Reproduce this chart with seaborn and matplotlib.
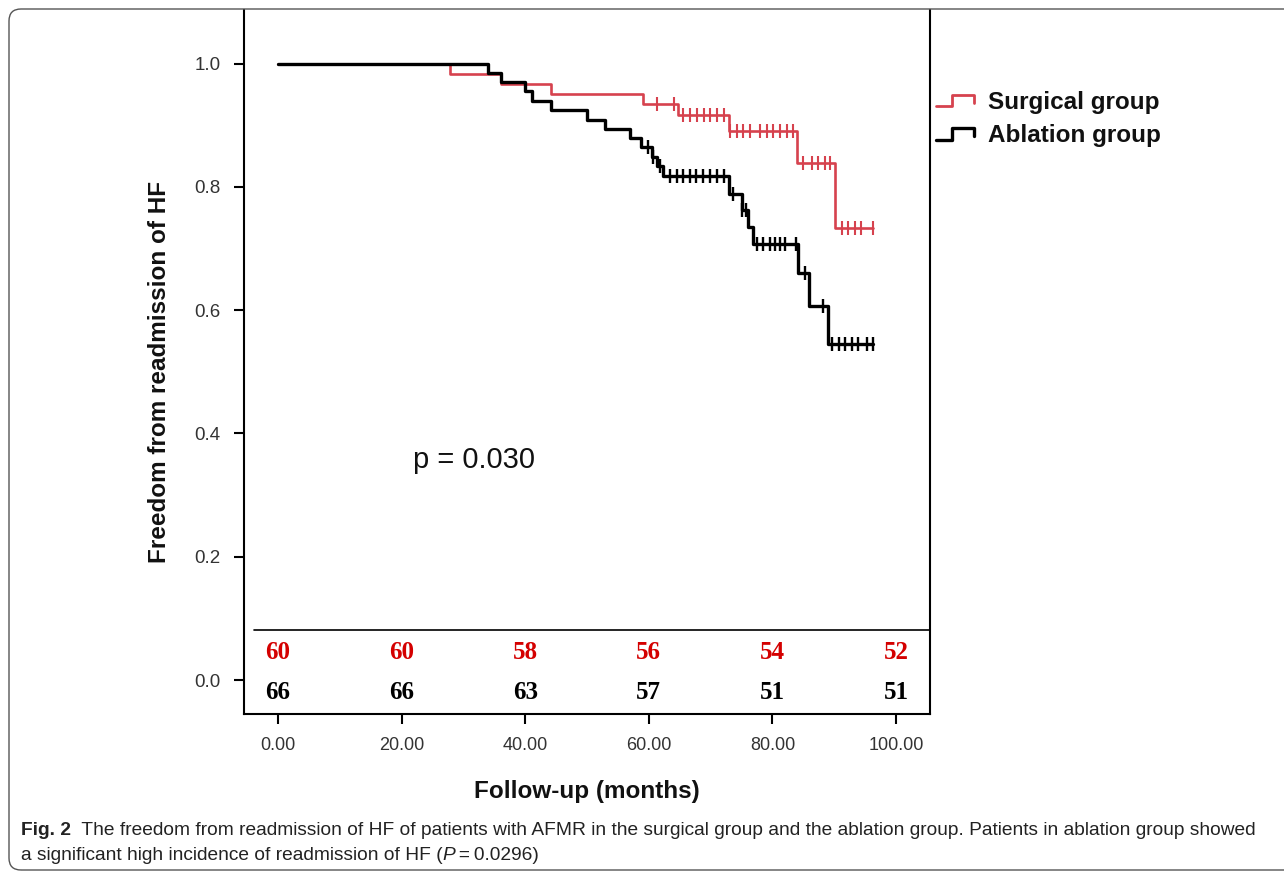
import numpy as np
import pandas as pd
import matplotlib
matplotlib.use("Agg")
import matplotlib.pyplot as plt
import seaborn as sns
from matplotlib.lines import Line2D
from matplotlib.legend_handler import HandlerBase
from matplotlib.patches import FancyBboxPatch
from matplotlib.transforms import IdentityTransform

# Kaplan-Meier steps (months, freedom from readmission)
surg_times = [0, 27.8, 36.1, 44.1, 59.1, 64.8, 72.9, 84.0, 90.1]
surg_surv = [1.0, 0.983, 0.967, 0.950, 0.934, 0.916, 0.890, 0.838, 0.733]
surg_end = 96.3
surg_censor = [61.3, 64.0, 65.6, 66.7, 67.8, 68.9, 69.9, 71.0, 72.1,
               73.1, 74.2, 75.3, 76.4, 78.0, 79.1, 80.1, 81.2, 82.3, 83.4,
               85.0, 86.4, 87.4, 88.5, 89.4, 91.2, 92.3, 93.4, 94.4, 96.3]

abl_times = [0, 34.0, 36.1, 40.0, 41.1, 44.1, 50.0, 52.9, 57.0, 58.8, 60.5,
             61.3, 62.3, 72.9, 75.0, 76.1, 76.9, 84.2, 86.0, 89.0]
abl_surv = [1.0, 0.985, 0.970, 0.955, 0.939, 0.924, 0.909, 0.894, 0.879, 0.864,
            0.849, 0.833, 0.817, 0.789, 0.762, 0.735, 0.708, 0.660, 0.606, 0.545]
abl_end = 96.3
abl_censor = [59.9, 60.7, 61.8, 63.4, 64.5, 65.6, 66.7, 67.7, 68.8, 69.9, 71.0,
              72.1, 73.7, 75.0, 75.8, 77.5, 78.5, 79.6, 80.4, 81.2, 82.0, 83.8,
              85.3, 88.2, 89.6, 90.7, 91.7, 92.8, 93.9, 95.3, 96.3]

# numbers at risk
risk_times = [0, 20, 40, 60, 80, 100]
surg_risk = [60, 60, 58, 56, 54, 52]
abl_risk = [66, 66, 63, 57, 51, 51]

group_labels = ["Surgical group", "Ablation group"]
RED = "#d6424e"
RISK_RED = "#d40000"


def km_frame(times, surv, end):
    return pd.DataFrame({"time": list(times) + [end],
                         "surv": list(surv) + [surv[-1]]})


def censor_frame(times, surv, cens):
    idx = np.searchsorted(times, cens, side="right") - 1
    return pd.DataFrame({"time": cens, "surv": np.asarray(surv)[idx]})


class StepHandler(HandlerBase):
    def create_artists(self, legend, orig_handle, xdescent, ydescent,
                       width, height, fontsize, trans):
        xs = np.array([0, 0.42, 0.42, 1.0, 1.0]) * width - xdescent
        ys = np.array([0.15, 0.15, 0.8, 0.8, 0.35]) * height - ydescent
        line = Line2D(xs, ys, color=orig_handle.get_color(),
                      lw=orig_handle.get_linewidth())
        line.set_transform(trans)
        return [line]


sns.set_theme(style="white", context="notebook")
plt.rcParams["font.family"] = ["Liberation Sans", "DejaVu Sans"]
plt.rcParams["text.color"] = "#111111"
plt.rcParams["axes.labelcolor"] = "#111111"

W, H = 1284, 873
fig = plt.figure(figsize=(W / 100, H / 100), dpi=100)
ax = fig.add_axes([243.5 / W, 1 - 714 / H, (930 - 243.5) / W, (714 - 10) / H])

sns.lineplot(data=km_frame(surg_times, surg_surv, surg_end), x="time", y="surv",
             drawstyle="steps-post", estimator=None, sort=False,
             color=RED, linewidth=1.9, ax=ax)
sns.scatterplot(data=censor_frame(surg_times, surg_surv, surg_censor),
                x="time", y="surv", marker="|", s=90, linewidth=1.5,
                color=RED, ax=ax)
sns.lineplot(data=km_frame(abl_times, abl_surv, abl_end), x="time", y="surv",
             drawstyle="steps-post", estimator=None, sort=False,
             color="black", linewidth=2.4, ax=ax)
sns.scatterplot(data=censor_frame(abl_times, abl_surv, abl_censor),
                x="time", y="surv", marker="|", s=90, linewidth=1.7,
                color="black", ax=ax)

ax.set_xlim(-5.58, 105.5)
ax.set_ylim(-0.0551, 1.0868)
ax.set_xticks(risk_times)
ax.set_xticklabels([f"{v:.2f}" for v in risk_times])
ax.set_yticks([0, 0.2, 0.4, 0.6, 0.8, 1.0])
ax.set_yticklabels([f"{v:.1f}" for v in [0, 0.2, 0.4, 0.6, 0.8, 1.0]])
ax.tick_params(axis="both", bottom=True, left=True, direction="out",
               length=7.5, width=1.5, color="black", labelcolor="#333333")
ax.tick_params(axis="x", labelsize=13, pad=9)
ax.tick_params(axis="y", labelsize=13.5, pad=9)
for side in ["left", "bottom", "right"]:
    ax.spines[side].set_color("black")
    ax.spines[side].set_linewidth(1.5)
ax.spines["top"].set_visible(False)

ax.set_xlabel("Follow-up (months)", fontsize=17.5, fontweight="bold", labelpad=19)
ax.set_ylabel("Freedom from readmission of HF", fontsize=17.5, fontweight="bold")
ax.yaxis.set_label_coords((171 - 243.5) / 686.5, (714 - 372) / 704)

# number-at-risk table inside the axes
ax.axhline((680 - 630) / 616.5, xmin=(254 - 243.5) / 686.5, xmax=1,
           color="black", lw=1.2)
for t, n in zip(risk_times, surg_risk):
    ax.text(t, 0.0454, str(n), ha="center", va="center", color=RISK_RED,
            fontsize=18, fontweight="bold", family=["Liberation Serif"])
for t, n in zip(risk_times, abl_risk):
    ax.text(t, -0.021, str(n), ha="center", va="center", color="black",
            fontsize=18, fontweight="bold", family=["Liberation Serif"])

ax.text(21.8, 0.357, "p = 0.030", fontsize=21, ha="left", va="center",
        color="#111111")

handles = [Line2D([], [], color=RED, lw=2.0), Line2D([], [], color="black", lw=2.4)]
fig.legend(handles, group_labels, handler_map={Line2D: StepHandler()},
           loc="center left", bbox_to_anchor=(936 / W, 1 - 119 / H),
           frameon=False, prop={"weight": "bold", "size": 17.5},
           handlelength=1.55, handletextpad=0.6, labelspacing=0.42,
           borderpad=0, borderaxespad=0)

# rounded figure frame
fig.add_artist(FancyBboxPatch((9, 3), 1300, 861,
                              boxstyle="round,pad=0,rounding_size=12",
                              transform=IdentityTransform(), fill=False,
                              edgecolor="#555555", lw=1.0))

# caption, placed run by run
cap_font = ["Liberation Sans Narrow", "Liberation Sans", "DejaVu Sans"]
line1 = [("Fig. 2", "bold", "normal"),
         ("  The freedom from readmission of HF of patients with AFMR in the surgical group "
          "and the ablation group. Patients in ablation group showed", "normal", "normal")]
line2 = [("a significant high incidence of readmission of HF (", "normal", "normal"),
         ("P", "normal", "italic"),
         ("\u2009=\u20090.0296)", "normal", "normal")]

renderer = fig.canvas.get_renderer()


def place(runs, x0, ybase, size):
    x = x0
    out = []
    for s, wt, st in runs:
        t = fig.text(x / W, 1 - ybase / H, s, fontsize=size, fontweight=wt,
                     fontstyle=st, family=cap_font, va="baseline", ha="left",
                     color="#222222")
        x += t.get_window_extent(renderer).width
        out.append(t)
    return out, x


size = 14
texts, xend = place(line1, 21, 835, size)
for t in texts:
    t.remove()
size = size * (1268 - 21) / (xend - 21)
place(line1, 21, 835, size)
place(line2, 21, 860, size)

fig.savefig("out.png", dpi=100)
